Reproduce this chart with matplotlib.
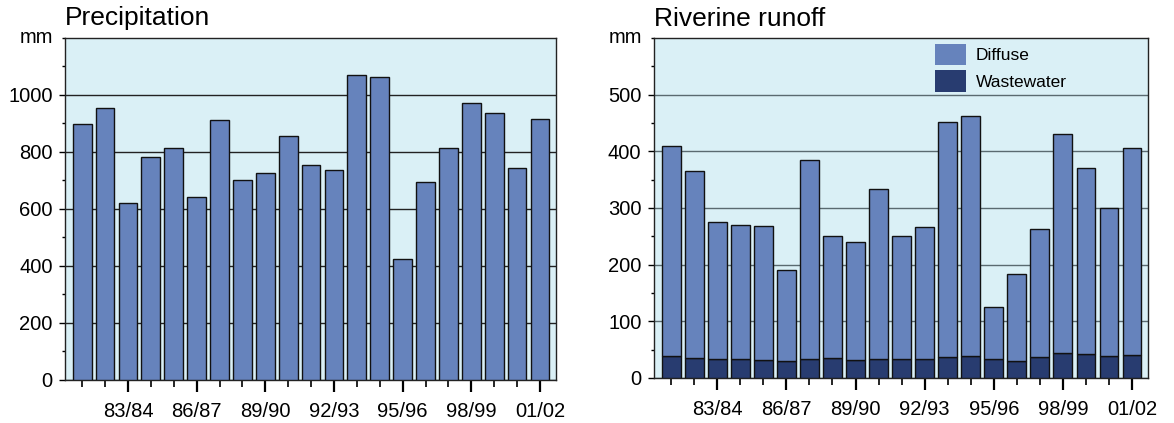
import matplotlib
matplotlib.use("Agg")
import matplotlib.pyplot as plt
from matplotlib.patches import Patch
import numpy as np

plt.rcParams['font.family'] = ['Liberation Sans', 'DejaVu Sans']

years = ["81/82", "82/83", "83/84", "84/85", "85/86", "86/87", "87/88", "88/89",
         "89/90", "90/91", "91/92", "92/93", "93/94", "94/95", "95/96", "96/97",
         "97/98", "98/99", "99/00", "00/01", "01/02"]
labelled = ["83/84", "86/87", "89/90", "92/93", "95/96", "98/99", "01/02"]

precipitation = [898, 954, 621, 782, 814, 642, 912, 702, 726, 856, 754, 737,
                 1070, 1063, 425, 695, 814, 972, 937, 744, 916]

runoff_total = [410, 366, 276, 270, 269, 191, 385, 251, 240, 334, 251, 267,
                452, 463, 126, 184, 263, 431, 371, 300, 406]
wastewater = [39, 35, 34, 33, 32, 30, 34, 35, 32, 34, 33, 33,
              37, 39, 33, 30, 37, 44, 43, 39, 41]
diffuse = [t - w for t, w in zip(runoff_total, wastewater)]

BG = "#DAF0F6"
C_DIFF = "#6683BC"
C_WASTE = "#283C70"

fig = plt.figure(figsize=(11.74, 4.23), dpi=100)
ax1 = fig.add_axes([0.0554, 0.1017, 0.4182, 0.8085])
ax2 = fig.add_axes([0.557, 0.1064, 0.421, 0.8038])

x = np.arange(len(years))
major_idx = [years.index(l) for l in labelled]

def style(ax, ymax, ystep, yminor, gridcolor):
    ax.set_facecolor(BG)
    ax.set_xlim(-0.75, len(years) - 0.3)
    ax.set_ylim(0, ymax)
    ax.set_yticks(np.arange(0, ymax, ystep))
    ax.set_yticks(np.arange(0, ymax + 1, yminor), minor=True)
    ax.set_xticks(major_idx)
    ax.set_xticklabels(labelled)
    ax.set_xticks(x, minor=True)
    ax.tick_params(axis='x', which='major', length=8.6, width=1.6, pad=7,
                   labelsize=14.5, direction='out')
    ax.tick_params(axis='x', which='minor', length=5, width=1.2, direction='out')
    ax.tick_params(axis='y', which='major', length=4, width=1.0, labelsize=14.5, pad=5)
    ax.tick_params(axis='y', which='minor', length=2.5, width=1.0)
    ax.grid(axis='y', which='major', color=gridcolor, linewidth=1.0)
    ax.set_axisbelow(True)
    for s in ax.spines.values():
        s.set_color("#222222")
        s.set_linewidth(1.0)
    ax.text(-0.024, 1.0, "mm", transform=ax.transAxes, ha='right', va='center',
            fontsize=14.5)

style(ax1, 1200, 200, 100, "#222222")
ax1.bar(x, precipitation, width=0.82, color=C_DIFF, edgecolor="#111111",
        linewidth=1.0, zorder=3)
ax1.text(0.0, 1.057, "Precipitation", transform=ax1.transAxes, ha='left',
         va='center', fontsize=19)

style(ax2, 600, 100, 50, "#5a6a70")
ax2.bar(x, wastewater, width=0.82, color=C_WASTE, edgecolor="#111111",
        linewidth=1.0, zorder=3)
ax2.bar(x, diffuse, bottom=wastewater, width=0.82, color=C_DIFF,
        edgecolor="#111111", linewidth=1.0, zorder=3)
ax2.text(0.0, 1.057, "Riverine runoff", transform=ax2.transAxes, ha='left',
         va='center', fontsize=19)

handles = [Patch(facecolor=C_DIFF, edgecolor='none', label="Diffuse"),
           Patch(facecolor=C_WASTE, edgecolor='none', label="Wastewater")]
ax2.legend(handles=handles, loc='upper left', bbox_to_anchor=(0.557, 1.0),
           frameon=False, fontsize=12.5, handlelength=1.75, handleheight=1.5,
           labelspacing=0.3, handletextpad=0.57, borderpad=0.0,
           borderaxespad=0.35)

fig.savefig("out.png", dpi=100)
